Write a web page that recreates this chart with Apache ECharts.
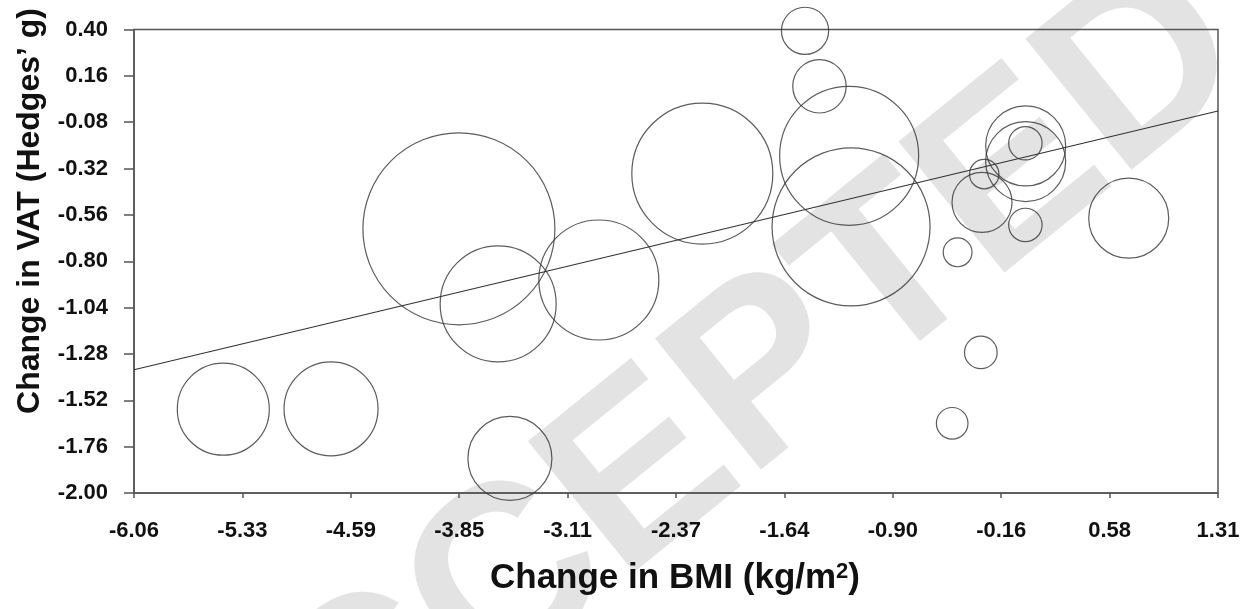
<!DOCTYPE html>
<html>
<head>
<meta charset="utf-8">
<script src="https://cdn.jsdelivr.net/npm/echarts@6/dist/echarts.min.js"></script>
<style>
html,body{margin:0;padding:0;background:#fff;}
#chart{width:1252px;height:609px;}
</style>
</head>
<body>
<div id="chart"></div>
<script>
// ---- data ----
const xTickLabels = ['-6.06','-5.33','-4.59','-3.85','-3.11','-2.37','-1.64','-0.90','-0.16','0.58','1.31'];
const yTickLabels = ['-2.00','-1.76','-1.52','-1.28','-1.04','-0.80','-0.56','-0.32','-0.08','0.16','0.40'];
const xMin = -6.0625, xMax = 1.3125, xStep = 0.7375;
const yMin = -2.00, yMax = 0.40, yStep = 0.24;

// change in BMI (kg/m2) per study
const bmiChange = [-5.455, -4.722, -3.852, -3.585, -3.505, -2.900, -2.196, -1.497, -1.399, -1.197, -1.184,
                   -0.459, -0.301, -0.496, -0.293, -0.278, 0.004, 0.004, 0.002, 0.002, 0.705];
// change in VAT (Hedges' g) per study
const vatChange = [-1.566, -1.564, -0.632, -1.021, -1.821, -0.897, -0.346, 0.393, 0.106, -0.254, -0.622,
                   -0.754, -1.272, -1.639, -0.495, -0.349, -0.203, -0.284, -0.189, -0.612, -0.577];
// relative study weight (bubble size)
const studyWeight = [4.6, 4.7, 9.6, 5.8, 4.2, 6.0, 7.05, 2.36, 2.67, 6.95, 7.9,
                     1.44, 1.63, 1.58, 3.0, 1.47, 4.0, 4.0, 1.67, 1.67, 4.0];
// meta-regression line end points
const fitX = [-6.0625, 1.3125];
const fitY = [-1.362, -0.022];

// ---- chart ----
const FONT = "'Liberation Sans', Arial, Helvetica, sans-serif";
const SIZE_SCALE = 20;
const chart = echarts.init(document.getElementById('chart'));

const bubbles = bmiChange.map((x, i) => [x - xMin, vatChange[i] - yMin]);
const fitLine = fitX.map((x, i) => [x - xMin, fitY[i] - yMin]);

chart.setOption({
  animation: false,
  backgroundColor: '#ffffff',
  grid: {left: 134, top: 29.5, right: 34, bottom: 116, show: true, borderColor: '#555', borderWidth: 1.5, backgroundColor: 'transparent'},
  xAxis: {
    type: 'value', min: 0, max: xMax - xMin, interval: xStep,
    axisLine: {show: true, onZero: false, lineStyle: {color: '#555', width: 1.5}},
    axisTick: {show: true, inside: false, length: 5, lineStyle: {color: '#555', width: 1.5}},
    splitLine: {show: false},
    axisLabel: {
      margin: 27, color: '#111', fontFamily: FONT, fontWeight: 'bold', fontSize: 22,
      formatter: v => xTickLabels[Math.round(v / xStep)] || ''
    }
  },
  yAxis: {
    type: 'value', min: 0, max: yMax - yMin, interval: yStep,
    axisLine: {show: true, onZero: false, lineStyle: {color: '#555', width: 1.5}},
    axisTick: {show: true, inside: false, length: 10, lineStyle: {color: '#555', width: 1.5}},
    splitLine: {show: false},
    axisLabel: {
      margin: 26, color: '#111', fontFamily: FONT, fontWeight: 'bold', fontSize: 22,
      formatter: v => yTickLabels[Math.round(v / yStep)] || ''
    }
  },
  graphic: [
    {type: 'text', z: -10, silent: true, x: 690, y: 440, rotation: 0.68,
     style: {text: 'ACCEPTED', fill: '#e3e3e3', font: 'bold 245px ' + FONT,
             textAlign: 'center', textVerticalAlign: 'middle'}},
    {type: 'text', z: 10, silent: true, x: 675, y: 578,
     style: {text: 'Change in BMI (kg/m{sup|2})', fill: '#111', font: 'bold 35px ' + FONT,
             textAlign: 'center', textVerticalAlign: 'middle',
             rich: {sup: {fontSize: 22, fontWeight: 'bold', fontFamily: FONT, fill: '#111', verticalAlign: 'top', lineHeight: 35}}}},
    {type: 'text', z: 10, silent: true, x: 30, y: 211, rotation: Math.PI / 2,
     style: {text: 'Change in VAT (Hedges’ g)', fill: '#111', font: 'bold 32px ' + FONT,
             textAlign: 'center', textVerticalAlign: 'middle'}}
  ],
  series: [
    {
      type: 'scatter', data: bubbles, clip: false, z: 3,
      symbol: 'circle',
      symbolSize: (val, p) => studyWeight[p.dataIndex] * SIZE_SCALE,
      itemStyle: {color: 'rgba(0,0,0,0)', borderColor: '#333', borderWidth: 1.2}
    },
    {
      type: 'line', data: fitLine, symbol: 'none', z: 4,
      lineStyle: {color: '#333', width: 1.2}
    }
  ]
});
</script>
</body>
</html>
